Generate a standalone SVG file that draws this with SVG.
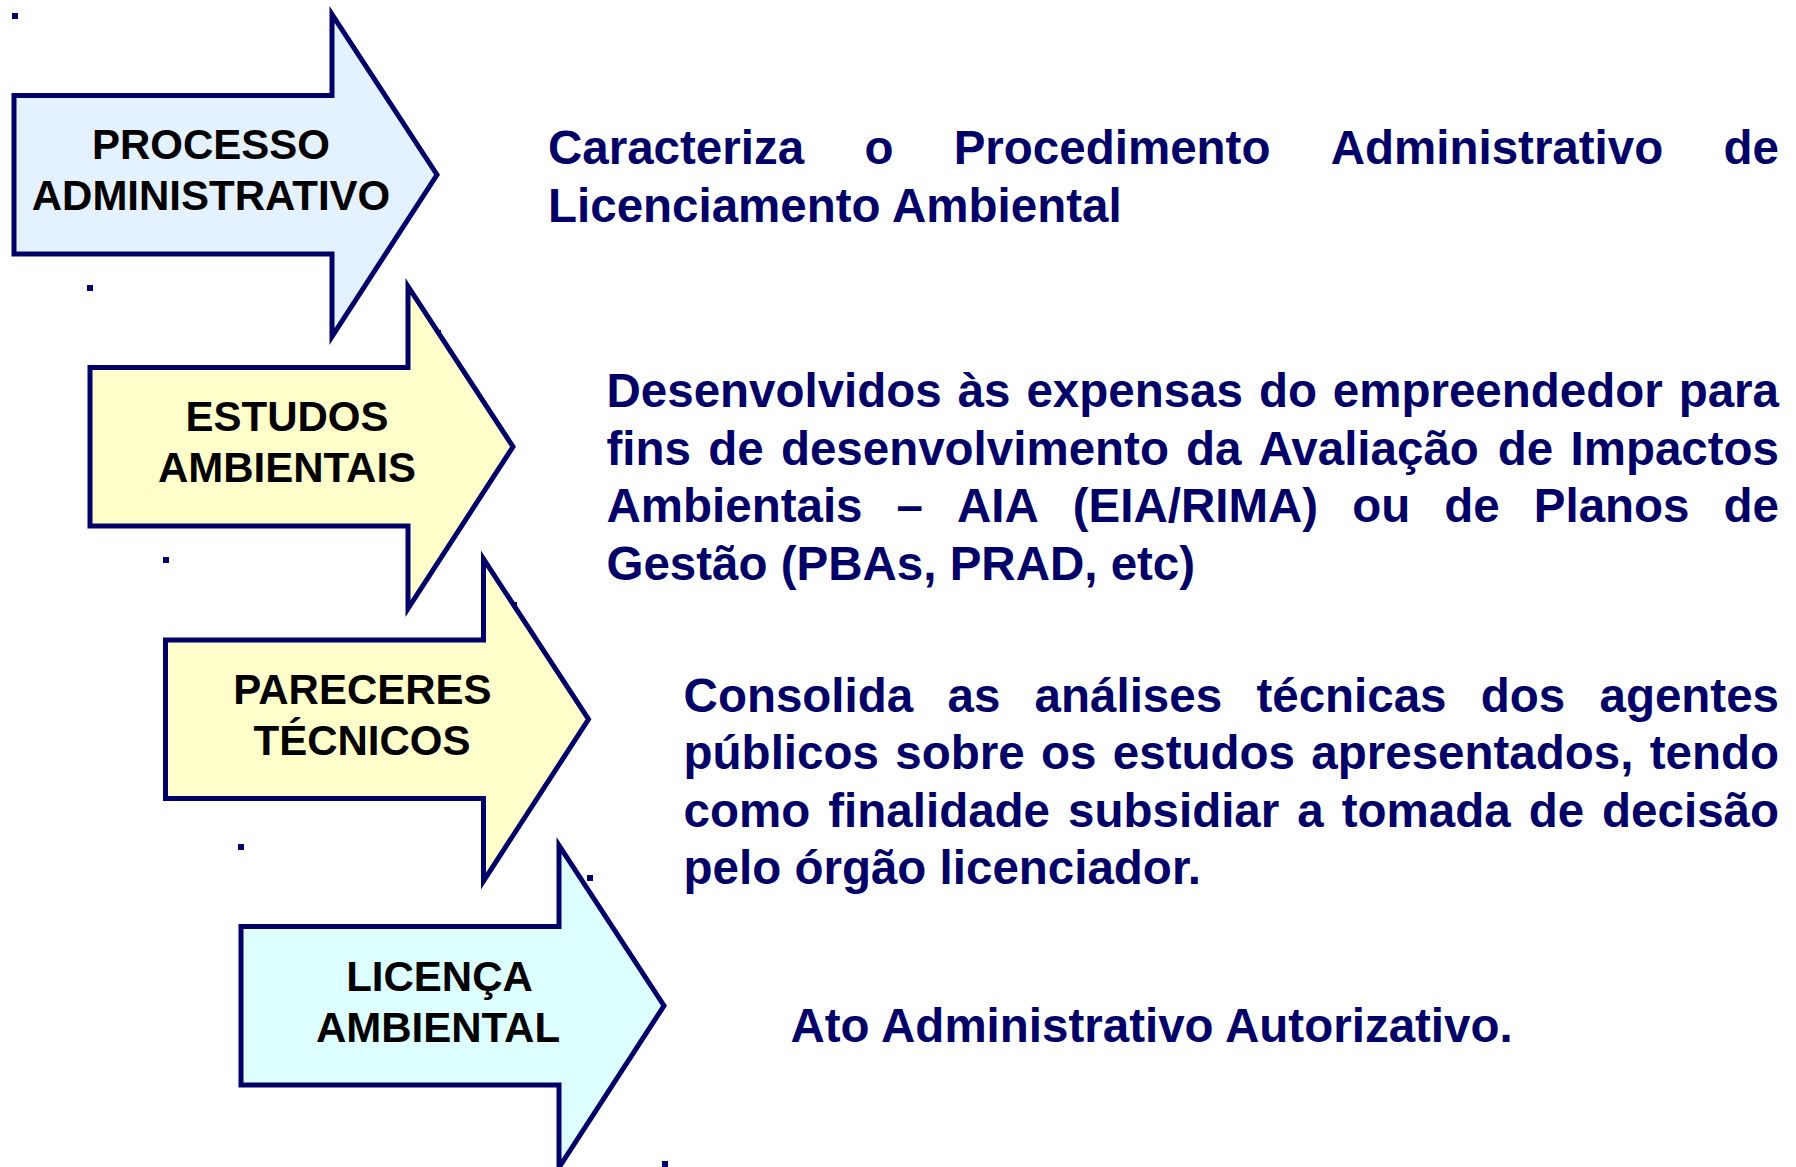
<svg xmlns="http://www.w3.org/2000/svg" width="1796" height="1167" viewBox="0 0 1796 1167">
<style>
.arrow{stroke:#000066;stroke-width:5;stroke-linejoin:miter;stroke-miterlimit:6}
.blue{fill:#E4F1FE}
.yellow{fill:#FFFFCC}
.cyan{fill:#DDFFFF}
.lbl{font-family:"Liberation Sans",Arial,sans-serif;font-weight:bold;font-size:42px;fill:#000000;text-anchor:middle}
.desc{font-family:"Liberation Sans",Arial,sans-serif;font-weight:bold;font-size:47.5px;fill:#000066}
.dot{fill:#000066}
</style>
<rect width="1796" height="1167" fill="#FFFFFF"/>
<g id="dots">
<rect class="dot" x="12" y="13" width="6" height="6"/>
<rect class="dot" x="87" y="285" width="6" height="6"/>
<rect class="dot" x="435" y="330" width="6" height="6"/>
<rect class="dot" x="163" y="557" width="6" height="6"/>
<rect class="dot" x="511" y="602" width="6" height="6"/>
<rect class="dot" x="238" y="844" width="6" height="6"/>
<rect class="dot" x="587" y="875" width="6" height="6"/>
<rect class="dot" x="662" y="1161" width="6" height="6"/>
</g>
<g id="connectors"></g>
<g id="node-processo">
<polygon class="arrow blue" points="14,95.5 332,95.5 332,14.5 437,174.75 332,336.5 332,254 14,254"/>
<text class="lbl"><tspan x="211" y="159.3">PROCESSO</tspan><tspan x="211" y="210">ADMINISTRATIVO</tspan></text>
</g>
<g id="node-estudos">
<polygon class="arrow yellow" points="90,367.5 408,367.5 408,286.5 513,446.75 408,608.5 408,526 90,526"/>
<text class="lbl"><tspan x="287" y="431.3">ESTUDOS</tspan><tspan x="287" y="482">AMBIENTAIS</tspan></text>
</g>
<g id="node-pareceres">
<polygon class="arrow yellow" points="165.5,640 483.5,640 483.5,559 588.5,719.25 483.5,881 483.5,798.5 165.5,798.5"/>
<text class="lbl"><tspan x="362.5" y="703.8">PARECERES</tspan><tspan x="362" y="754.5">TÉCNICOS</tspan></text>
</g>
<g id="node-licenca">
<polygon class="arrow cyan" points="241,926.5 559,926.5 559,845.5 664,1005.75 559,1167.5 559,1085 241,1085"/>
<text class="lbl"><tspan x="439.5" y="990.8">LICENÇA</tspan><tspan x="438" y="1041.5">AMBIENTAL</tspan></text>
</g>
<g id="desc-processo">
<text class="desc" y="164"><tspan x="548">Caracteriza</tspan><tspan x="864.4">o</tspan><tspan x="953.7">Procedimento</tspan><tspan x="1330.7">Administrativo</tspan><tspan x="1723.6">de</tspan></text>
<text class="desc" x="548" y="222">Licenciamento Ambiental</text>
</g>
<g id="desc-estudos">
<text class="desc" y="407"><tspan x="606.5">Desenvolvidos</tspan><tspan x="957.7">às</tspan><tspan x="1026.4">expensas</tspan><tspan x="1258.9">do</tspan><tspan x="1332.8">empreendedor</tspan><tspan x="1678.7">para</tspan></text>
<text class="desc" y="464.5"><tspan x="606.5">fins</tspan><tspan x="708.2">de</tspan><tspan x="780.9">desenvolvimento</tspan><tspan x="1186.1">da</tspan><tspan x="1258.8">Avaliação</tspan><tspan x="1497.8">de</tspan><tspan x="1570.5">Impactos</tspan></text>
<text class="desc" y="522"><tspan x="606.5">Ambientais</tspan><tspan x="896.6">–</tspan><tspan x="957">AIA</tspan><tspan x="1072.8">(EIA/RIMA)</tspan><tspan x="1352.3">ou</tspan><tspan x="1444.3">de</tspan><tspan x="1533.8">Planos</tspan><tspan x="1723.6">de</tspan></text>
<text class="desc" x="606.5" y="580">Gestão (PBAs, PRAD, etc)</text>
</g>
<g id="desc-pareceres">
<text class="desc" y="712"><tspan x="683.6">Consolida</tspan><tspan x="947.5">as</tspan><tspan x="1034.6">análises</tspan><tspan x="1256.4">técnicas</tspan><tspan x="1480.8">dos</tspan><tspan x="1599.5">agentes</tspan></text>
<text class="desc" y="769"><tspan x="683.6">públicos</tspan><tspan x="895.3">sobre</tspan><tspan x="1041">os</tspan><tspan x="1112.8">estudos</tspan><tspan x="1311.3">apresentados,</tspan><tspan x="1649.7">tendo</tspan></text>
<text class="desc" y="827"><tspan x="683.6">como</tspan><tspan x="828.3">finalidade</tspan><tspan x="1068.1">subsidiar</tspan><tspan x="1297.3">a</tspan><tspan x="1341.7">tomada</tspan><tspan x="1528.7">de</tspan><tspan x="1602.1">decisão</tspan></text>
<text class="desc" x="683.6" y="884">pelo órgão licenciador.</text>
</g>
<g id="desc-licenca">
<text class="desc" x="790.5" y="1042">Ato Administrativo Autorizativo.</text>
</g>
</svg>
